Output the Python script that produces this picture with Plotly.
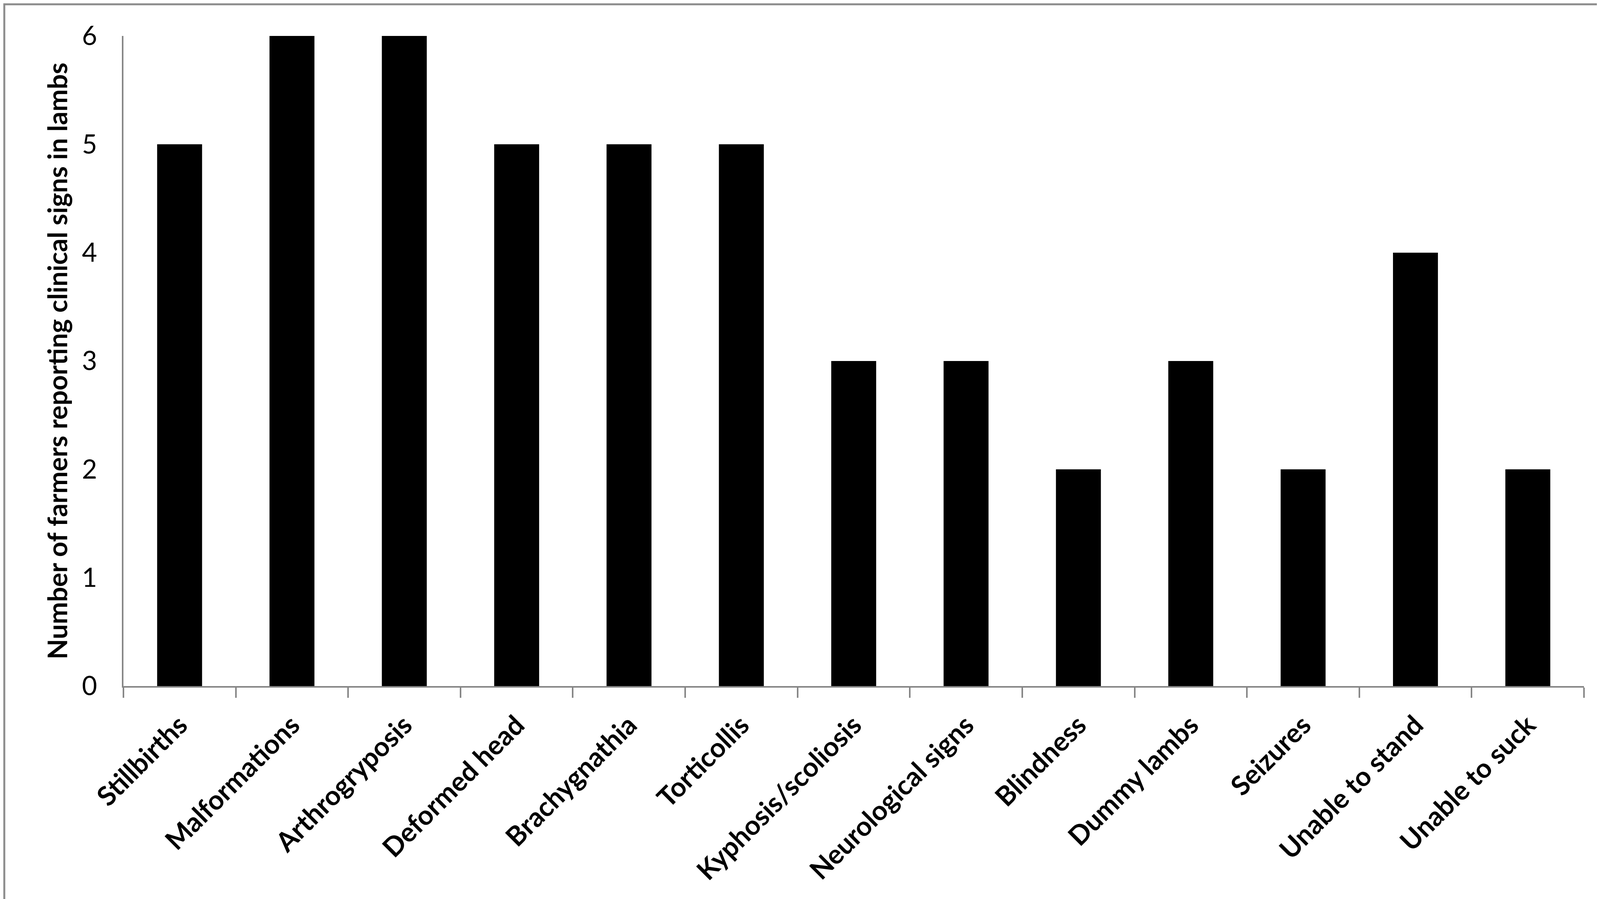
import plotly.graph_objects as go

# clinical signs reported in lambs
signs = [
    "Stillbirths",
    "Malformations",
    "Arthrogryposis",
    "Deformed head",
    "Brachygnathia",
    "Torticollis",
    "Kyphosis/scoliosis",
    "Neurological signs",
    "Blindness",
    "Dummy lambs",
    "Seizures",
    "Unable to stand",
    "Unable to suck",
]
farmers = [5, 6, 6, 5, 5, 5, 3, 3, 2, 3, 2, 4, 2]
y_ticks = [0, 1, 2, 3, 4, 5, 6]

W, H = 4134, 2301
ML, MR, MT, MB = 308, 87, 84, 553
AXIS_GREY = "#868686"
FONT = "Lato"

fig = go.Figure()

fig.add_trace(
    go.Bar(
        x=signs,
        y=farmers,
        marker=dict(color="black", line=dict(width=0)),
        hoverinfo="x+y",
    )
)

fig.update_xaxes(
    type="category",
    tickangle=-45,
    tickson="boundaries",
    ticks="outside",
    ticklen=26,
    tickwidth=4,
    tickcolor=AXIS_GREY,
    showline=True,
    linecolor=AXIS_GREY,
    linewidth=4,
    showgrid=False,
    tickfont=dict(family=FONT, size=69, color="black", weight="bold"),
    ticklabelstandoff=28,
)

fig.update_yaxes(
    range=[0, 6],
    tickmode="array",
    tickvals=y_ticks,
    ticks="",
    showline=True,
    linecolor=AXIS_GREY,
    linewidth=4,
    showgrid=False,
    zeroline=False,
    tickfont=dict(family=FONT, size=67, color="black"),
    ticklabelstandoff=50,
    title=dict(
        text="Number of farmers reporting clinical signs in lambs",
        font=dict(family=FONT, size=68, color="black", weight="bold"),
        standoff=16,
    ),
)

# grey frame round the whole chart
pw = W - ML - MR
ph = H - MT - MB
fig.add_shape(
    type="rect",
    xref="paper",
    yref="paper",
    x0=-(ML - 3) / pw,
    x1=1 + (MR - 3) / pw,
    y0=-(MB - 3) / ph,
    y1=1 + (MT - 3) / ph,
    line=dict(color="#8c8c8c", width=5),
    fillcolor="rgba(0,0,0,0)",
    layer="below",
)

fig.update_layout(
    width=W,
    height=H,
    margin=dict(l=ML, r=MR, t=MT, b=MB, autoexpand=False),
    bargap=0.6,
    plot_bgcolor="white",
    paper_bgcolor="white",
    showlegend=False,
)

fig.write_html("out.html")
